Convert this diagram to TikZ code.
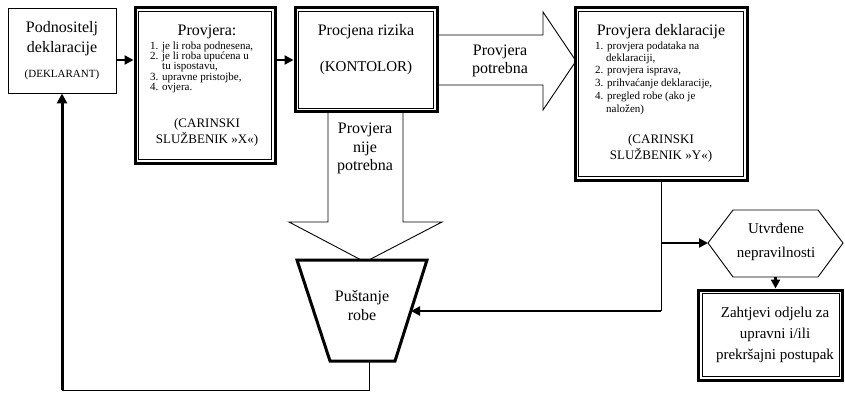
\documentclass[tikz,border=0pt]{standalone}
\usepackage{fontspec}
\setmainfont{Liberation Serif}
\usetikzlibrary{arrows.meta}
\begin{document}
\begin{tikzpicture}[x=1pt,y=-1pt,
  sbox/.style={draw,line width=0.9pt,inner sep=0pt,fill=white},
  dbox/.style={draw,line width=3pt,inner sep=0pt,fill=white},
  inframe/.style={line width=0.9pt},
  conn/.style={line width=2.5pt,-{Triangle[length=9pt,width=9pt]}},
  thinln/.style={line width=0.9pt},
  blk/.style={draw,line width=0.9pt,fill=white,line join=miter},
  trap/.style={draw,line width=3pt,fill=white,line join=miter},
  hexa/.style={draw,line width=0.9pt,fill=white},
  lbl/.style={inner sep=0pt,anchor=base},
  lst/.style={inner sep=0pt,anchor=base west},
  fT/.style={font=\fontsize{16}{19}\selectfont},
  fM/.style={font=\fontsize{15}{18}\selectfont},
  fC/.style={font=\fontsize{13}{15}\selectfont},
  fS/.style={font=\fontsize{11}{12}\selectfont},
  fD/.style={font=\fontsize{11}{13}\selectfont}
]
\useasboundingbox (0,0) rectangle (845,393);

% block arrows (drawn first, boxes cover their ends)
\draw[blk] (437,35) -- (543,35) -- (543,12) -- (576,61) -- (543,110) -- (543,85) -- (437,85) -- cycle;
\draw[blk] (328,112) -- (328,222) -- (289,222) -- (365,262) -- (442,222) -- (403,222) -- (403,112) -- cycle;

% boxes
\node[sbox,minimum width=108pt,minimum height=85pt] (b1) at (62,50.5) {};
\node[dbox,minimum width=140pt,minimum height=155pt] (b2) at (205,85.5) {};
\node[dbox,minimum width=142pt,minimum height=104pt] (b3) at (366,60) {};
\node[dbox,minimum width=172pt,minimum height=172pt] (b4) at (661,94) {};
\node[dbox,minimum width=144pt,minimum height=90pt] (b5) at (770.5,335) {};
\foreach \n in {b2,b3,b4,b5}
  \draw[inframe] ([shift={(5,5)}]\n.north west) rectangle ([shift={(-5,-5)}]\n.south east);

% trapezoid
\coordinate (trTL) at (297,260);
\coordinate (trTR) at (427,260);
\coordinate (trBR) at (395,361);
\coordinate (trBL) at (330,361);
\draw[trap] (trTL) -- (trTR) -- (trBR) -- (trBL) -- cycle;
\coordinate (trR) at (411,311);
\coordinate (trB) at (369,361);

% hexagon
\coordinate (hxL) at (708,243);
\coordinate (hxB) at (775.5,277);
\draw[hexa] (hxL) -- (733,210) -- (818,210) -- (843,243) -- (818,277) -- (733,277) -- cycle;

% connectors
\draw[conn] (b1.east |- b3.west) -- (b2.west |- b3.west);
\draw[conn] (b2.east |- b3.west) -- (b3.west);
\coordinate (vb) at (b4.south |- trR);
\draw[thinln] (b4.south) -- (vb);
\draw[conn] (vb) -- (trR);
\draw[conn] (b4.south |- hxL) -- (hxL);
\draw[conn] (hxB) -- (b5.north -| hxB);
\coordinate (lc) at (b1.south |- 0,390);
\draw[thinln] (trB) |- (lc);
\draw[line width=3pt,-{Triangle[length=10pt,width=10pt]}] (lc) -- (b1.south);

% texts box1
\node[lbl,fT] (t1a) at (62,33) {Podnositelj};
\node[lbl,fT] (t1b) at (62,53) {deklaracije};
\node[lbl,fD] (t1c) at (62,78) {(DEKLARANT)};

% texts box2
\node[lbl,fT] (t2a) at (207,36) {Provjera:};
\node[lst,fS] (t2l1) at (150,50) {1. je li roba podnesena,};
\node[lst,fS] (t2l2) at (150,60) {2. je li roba upućena u};
\node[lst,fS] (t2l3) at (162,70) {tu ispostavu,};
\node[lst,fS] (t2l4) at (150,81) {3. upravne pristojbe,};
\node[lst,fS] (t2l5) at (150,91) {4. ovjera.};
\node[lbl,fC] (t2b) at (207,128) {(CARINSKI};
\node[lbl,fC] (t2c) at (207,143) {SLUŽBENIK »X«)};

% texts box3
\node[lbl,fT] (t3a) at (366,36) {Procjena rizika};
\node[lbl,fM] (t3b) at (366,72) {(KONTOLOR)};

% block arrow labels
\node[lbl,fT] (ta1) at (500,56) {Provjera};
\node[lbl,fT] (ta2) at (500,74) {potrebna};
\node[lbl,fT] (td1) at (365,133) {Provjera};
\node[lbl,fT] (td2) at (365,152) {nije};
\node[lbl,fT] (td3) at (365,170) {potrebna};

% texts box4
\node[lbl,fT] (t4a) at (661,36) {Provjera deklaracije};
\node[lst,fD] (t4l1) at (595,50) {1. provjera podataka na};
\node[lst,fD] (t4l2) at (606,62) {deklaraciji,};
\node[lst,fD] (t4l3) at (595,74) {2. provjera isprava,};
\node[lst,fD] (t4l4) at (595,87) {3. prihvaćanje deklaracije,};
\node[lst,fD] (t4l5) at (595,100) {4. pregled robe (ako je};
\node[lst,fD] (t4l6) at (606,113) {naložen)};
\node[lbl,fC] (t4b) at (661,143) {(CARINSKI};
\node[lbl,fC] (t4c) at (661,159) {SLUŽBENIK »Y«)};

% hexagon text
\node[lbl,fM] (th1) at (776,233) {Utvrđene};
\node[lbl,fM] (th2) at (776,257) {nepravilnosti};

% box5 text
\node[lbl,fM] (t5a) at (775,317) {Zahtjevi odjelu za};
\node[lbl,fM] (t5b) at (775,338) {upravni i/ili};
\node[lbl,fM] (t5c) at (775,359) {prekršajni postupak};

% trapezoid text
\node[lbl,fT] (tt1) at (362,301) {Puštanje};
\node[lbl,fT] (tt2) at (362,320) {robe};
\end{tikzpicture}
\end{document}
